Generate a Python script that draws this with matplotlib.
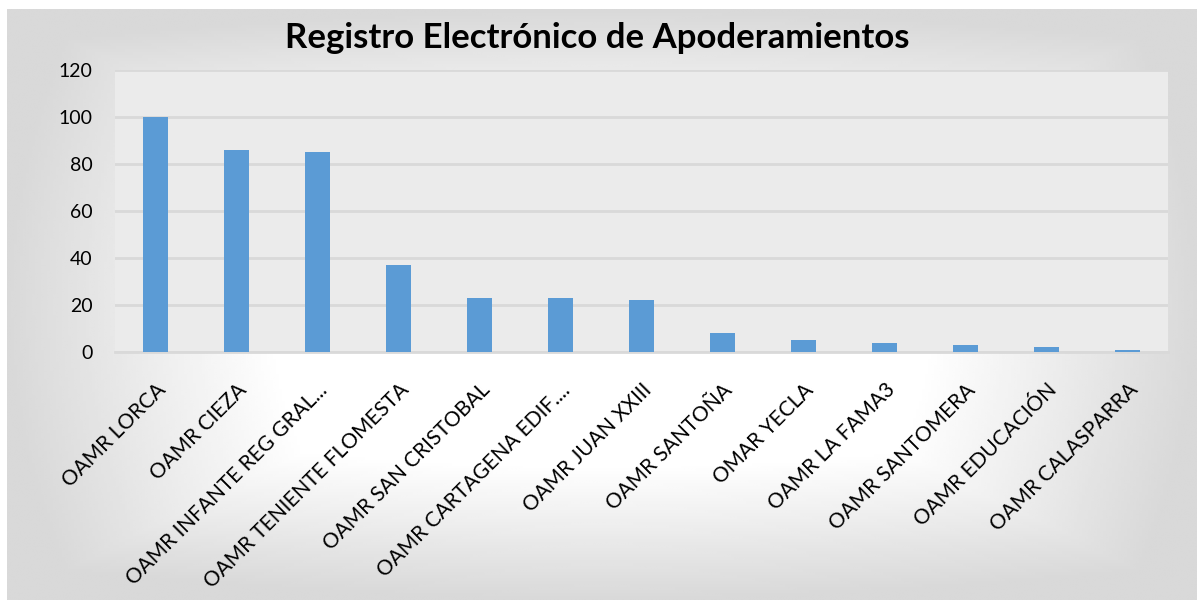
import numpy as np
import matplotlib
matplotlib.use("Agg")
from matplotlib import pyplot as plt

# datos
oficinas = ["OAMR LORCA", "OAMR CIEZA", "OAMR INFANTE REG GRAL...",
            "OAMR TENIENTE FLOMESTA", "OAMR SAN CRISTOBAL", "OAMR CARTAGENA EDIF....",
            "OAMR JUAN XXIII", "OAMR SANTOÑA", "OMAR YECLA", "OAMR LA FAMA3",
            "OAMR SANTOMERA", "OAMR EDUCACIÓN", "OAMR CALASPARRA"]
apoderamientos = [100, 86, 85, 37, 23, 23, 22, 8, 5, 4, 3, 2, 1]
yticks = [0, 20, 40, 60, 80, 100, 120]

plt.rcParams["font.family"] = ["Lato", "DejaVu Sans"]

W, H = 1197, 600
fig = plt.figure(figsize=(W / 100.0, H / 100.0), dpi=100)
fig.patch.set_facecolor("white")

# fondo con degradado radial (blanco al centro, gris en los bordes)
bg = fig.add_axes([7.0 / W, 0, 1 - 7.0 / W, 1 - 9.0 / H], zorder=0)
gx, gy = np.meshgrid(np.linspace(-1, 1, 400), np.linspace(-1, 1, 200))
r = np.sqrt(gx ** 2 + gy ** 2)
r = np.maximum(np.abs(gx), np.abs(gy)) * 0.75 + r * 0.25
val = np.clip((r - 0.55) / 0.45, 0, 1)
shade = 1.0 - 0.15 * val
bg.imshow(shade, cmap="gray", vmin=0, vmax=1, aspect="auto", interpolation="bilinear")
bg.axis("off")

# area de trazado
x0, x1, y0, y1 = 115, 1168, 70, 352
ax = fig.add_axes([x0 / W, 1 - y1 / H, (x1 - x0) / W, (y1 - y0) / H], zorder=1)
ax.set_facecolor("#EBEBEB")

pos = np.arange(len(oficinas))
ax.bar(pos, apoderamientos, width=0.31, color="#5B9BD5", zorder=3)

ax.set_ylim(0, 120)
ax.set_xlim(-0.5, len(oficinas) - 0.5)
ax.set_yticks(yticks)
ax.set_yticklabels([str(v) for v in yticks], fontsize=14)
ax.yaxis.grid(True, color="#D9D9D9", linewidth=2)
ax.set_axisbelow(True)
for s in ["top", "right", "left"]:
    ax.spines[s].set_visible(False)
ax.spines["bottom"].set_color("#D9D9D9")
ax.spines["bottom"].set_linewidth(2)
ax.tick_params(axis="both", length=0)
ax.tick_params(axis="y", pad=16)
ax.set_xticks(pos)
ax.set_xticklabels(oficinas, rotation=45, ha="right", rotation_mode="anchor", fontsize=15)
ax.tick_params(axis="x", pad=20)

fig.text(597 / W, 1 - 38.0 / H, "Registro Electrónico de Apoderamientos",
         ha="center", va="center", fontsize=25, fontweight="bold")

fig.savefig("out.png", dpi=100)
